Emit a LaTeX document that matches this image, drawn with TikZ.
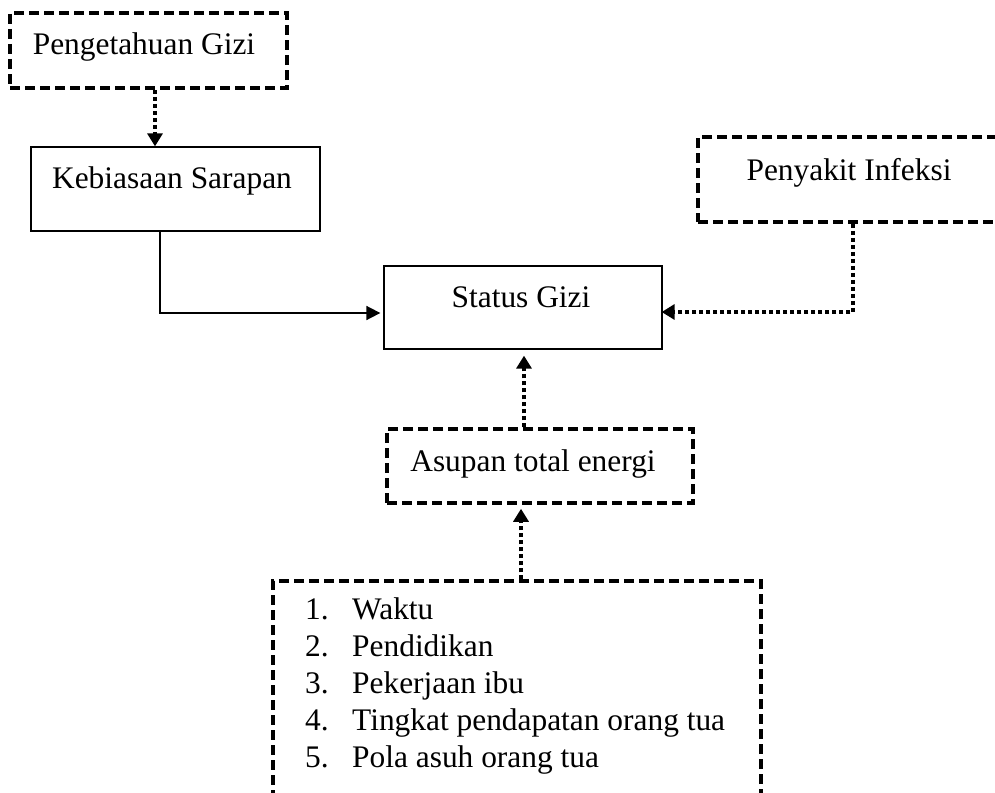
\documentclass[tikz,border=0pt]{standalone}
\usepackage{fontspec}
\setmainfont{Liberation Serif}
\usetikzlibrary{arrows.meta}
\begin{document}
\begin{tikzpicture}[x=1pt,y=-1pt,
  solidbox/.style={draw, line width=1.3pt, rectangle, inner sep=0pt},
  dashbox/.style={draw, line width=3.5pt, dash pattern=on 10pt off 5pt, rectangle, inner sep=0pt},
  lbl/.style={font=\fontsize{31.4}{37}\selectfont, anchor=base, inner sep=0pt},
  itm/.style={font=\fontsize{31.4}{37}\selectfont, anchor=base west, inner sep=0pt},
  dotarrow/.style={line width=4pt, dash pattern=on 4pt off 3pt, -{Triangle[length=13pt,width=15pt]}},
  solidarrow/.style={line width=1.7pt, -{Triangle[length=14pt,width=14pt]}}]
\useasboundingbox (0,0) rectangle (995,792);
\clip (0,0) rectangle (995,792);
% boxes
\node[dashbox, minimum width=277pt, minimum height=75pt] (peng) at (148.5,50.5) {};
\node[lbl] (pengT) at (144,55) {Pengetahuan Gizi};
\node[solidbox, minimum width=289pt, minimum height=84pt] (keb) at (175.5,189) {};
\node[lbl] (kebT) at (172,188) {Kebiasaan Sarapan};
\node[solidbox, minimum width=278pt, minimum height=83pt] (status) at (523,307.5) {};
\node[lbl] (statusT) at (521,307) {Status Gizi};
\node[dashbox, minimum width=302pt, minimum height=85pt] (peny) at (849,179.5) {};
\node[lbl] (penyT) at (849,180) {Penyakit Infeksi};
\node[dashbox, minimum width=306pt, minimum height=74pt] (asup) at (540,466) {};
\node[lbl] (asupT) at (533,471) {Asupan total energi};
\node[dashbox, minimum width=488pt, minimum height=240pt] (list) at (517,701) {};
\node[itm] (n1) at (305,619) {1.};
\node[itm] (t1) at (352,619) {Waktu};
\node[itm] (n2) at (305,656) {2.};
\node[itm] (t2) at (352,656) {Pendidikan};
\node[itm] (n3) at (305,693) {3.};
\node[itm] (t3) at (352,693) {Pekerjaan ibu};
\node[itm] (n4) at (305,730) {4.};
\node[itm] (t4) at (352,730) {Tingkat pendapatan orang tua};
\node[itm] (n5) at (305,767) {5.};
\node[itm] (t5) at (352,767) {Pola asuh orang tua};
% connector helper coordinates
\coordinate (c1) at (155,0);
\coordinate (k1) at (160,313);
\coordinate (p1) at (853,312);
\coordinate (a1) at (524,0);
\coordinate (l1) at (521,0);
% connectors
\draw[dotarrow] (c1 |- peng.south) -- (c1 |- keb.north);
\draw[solidarrow, shorten >=3pt] (k1 |- keb.south) |- (status.west |- k1);
\draw[dotarrow, shorten >=-1pt] (p1 |- peny.south) |- (status.east |- p1);
\draw[dotarrow, shorten >=6pt] (a1 |- asup.north) -- (a1 |- status.south);
\draw[dotarrow, shorten >=4pt] (l1 |- list.north) -- (l1 |- asup.south);
\end{tikzpicture}
\end{document}
